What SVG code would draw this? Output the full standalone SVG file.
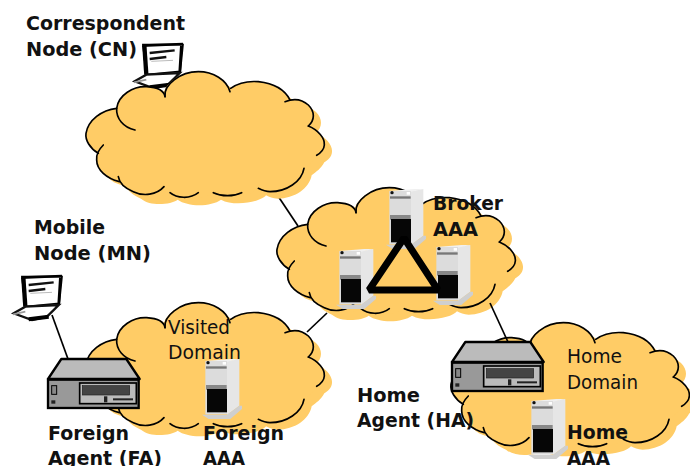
<svg xmlns="http://www.w3.org/2000/svg" width="690" height="466" viewBox="0 0 690 466">
<style>
text{font-family:"DejaVu Sans",Verdana,sans-serif;font-size:20px;fill:#111}
.b{font-weight:bold}
.line{stroke:#000;stroke-width:1.7;fill:none}
.arc{stroke:#000;stroke-width:5;fill:none;stroke-linecap:round}
.fill{fill:#ffcc66;stroke:none}
</style>
<defs>
<path id="cloudBody" d="M350,325C355,285 400,258 440,260C465,261 482,266 492,275C505,240 550,215 595,215C640,215 675,238 690,268C715,247 750,243 775,245C820,250 855,270 870,298C890,294 910,300 925,315C945,335 945,360 925,378C955,390 975,415 973,435C972,450 960,460 950,466C940,485 925,495 912,505C905,545 860,575 810,575C795,575 785,570 775,565C760,585 680,600 640,578C610,600 540,600 510,578C490,592 430,600 400,575C375,565 358,550 355,535C320,535 290,510 290,480C288,472 290,465 295,460C270,445 255,420 258,400C265,360 305,330 350,325Z"/>
<g id="cloudShape" transform="scale(.33333)">
<use href="#cloudBody" class="fill" transform="translate(23,21)"/>
<use href="#cloudBody" class="fill"/>
<path class="arc" d="M495,290C490,255 540,215 595,215C640,215 680,240 690,275"/>
<path class="arc" d="M692,265C720,245 750,243 775,245C820,250 855,270 870,300"/>
<path class="arc" d="M855,305C880,295 905,297 925,315C945,335 945,360 925,378"/>
<path class="arc" d="M925,378C955,390 975,415 973,435C972,450 960,460 950,466"/>
<path class="arc" d="M912,505C905,545 860,575 810,575C795,575 785,570 775,565"/>
<path class="arc" d="M725,578C700,590 665,590 640,578"/>
<path class="arc" d="M595,578C570,598 530,595 510,578"/>
<path class="arc" d="M492,560C470,585 430,590 400,575C375,565 358,550 355,530"/>
<path class="arc" d="M358,545C320,535 290,510 290,480C288,465 295,450 310,435"/>
<path class="arc" d="M295,460C270,445 255,420 258,400C265,360 305,330 350,325"/>
<path class="arc" d="M405,390C370,382 348,355 350,325C355,285 400,258 440,260C470,262 492,270 495,290"/>
</g>
<g id="server" transform="scale(.33333)">
<polygon points="75,6 112,0 112,140 75,168" fill="#e6e6e6"/>
<polygon points="10,6 85,0 112,0 75,8" fill="#f0f0f0"/>
<rect x="10" y="6" width="65" height="160" fill="#dcdcdc"/>
<rect x="12" y="22" width="62" height="7" fill="#777"/>
<rect x="12" y="78" width="62" height="14" fill="#888"/>
<rect x="15" y="90" width="60" height="70" fill="#060606"/>
<circle cx="18" cy="11" r="5" fill="#111"/>
<rect x="62" y="9" width="10" height="8" fill="#fff"/>
<polygon points="0,167 75,167 112,140 120,140 120,150 85,180 20,180" fill="#cfcfcf"/>
</g>
<g id="router" transform="scale(.33333)">
<polygon points="0,60 40,0 235,0 275,60" fill="#bbb" stroke="#000" stroke-width="7" stroke-linejoin="round"/>
<rect x="0" y="62" width="272" height="85" fill="#999" stroke="#000" stroke-width="7"/>
<rect x="95" y="72" width="170" height="62" fill="#bbb" stroke="#000" stroke-width="5"/>
<rect x="103" y="80" width="142" height="28" fill="#444" stroke="#222" stroke-width="2"/>
<rect x="168" y="112" width="10" height="18" fill="#222"/>
<rect x="195" y="118" width="60" height="6" fill="#222"/>
<rect x="11" y="80" width="15" height="26" fill="#888" stroke="#000" stroke-width="3"/>
<rect x="10" y="124" width="12" height="10" fill="#222"/>
</g>
<g id="laptop" transform="scale(.33333)">
<path d="M30,5L150,5L142,85L40,95Z" fill="#fff" stroke="#000" stroke-width="5"/>
<path d="M28,8L150,3" fill="none" stroke="#000" stroke-width="8"/>
<path d="M34,8L40,95" fill="none" stroke="#000" stroke-width="13"/>
<path d="M145,8L140,90" fill="none" stroke="#000" stroke-width="8"/>
<path d="M50,30L125,22M50,48L100,42" stroke="#111" stroke-width="7" fill="none"/>
<path d="M55,55L120,52" stroke="#999" stroke-width="2" fill="none"/>
<path d="M5,115L40,95L140,90L105,125L60,135Z" fill="#fff" stroke="#111" stroke-width="7"/>
<path d="M50,133L110,125" stroke="#000" stroke-width="12"/>
<path d="M3,118L40,110" stroke="#999" stroke-width="5"/>
</g>
</defs>

<g id="connectors">
<path class="line" d="M278,196L298,226"/>
<path class="line" d="M307,332L327,313"/>
<path class="line" d="M52,315L68,359"/>
</g>

<g id="cn-laptop"><use href="#laptop" x="133" y="43"/></g>
<g id="mn-laptop"><use href="#laptop" x="12" y="275"/></g>

<g id="internet-cloud"><use href="#cloudShape"/></g>
<g id="broker-cloud"><use href="#cloudShape" x="191" y="116"/></g>
<g id="visited-cloud"><use href="#cloudShape" x="0" y="231"/></g>
<g id="home-cloud"><use href="#cloudShape" x="365" y="251"/></g>

<g id="connector-broker-home"><path class="line" d="M490,303L508,342"/></g>

<g id="foreign-agent"><use href="#router" x="48" y="359"/></g>
<g id="home-agent"><use href="#router" x="452" y="342"/></g>
<g id="foreign-aaa"><use href="#server" x="202" y="359"/></g>
<g id="home-aaa"><use href="#server" x="528" y="399"/></g>
<g id="broker-aaa-top"><use href="#server" x="386" y="189"/></g>
<g id="broker-aaa-left"><use href="#server" x="336" y="249"/></g>
<g id="broker-aaa-right"><use href="#server" x="433" y="245"/></g>

<g id="broker-mesh"><path d="M404,238L369,290L438,290Z" fill="none" stroke="#000" stroke-width="7" stroke-linejoin="bevel"/></g>

<g id="labels">
<text class="b" x="26" y="30" textLength="159" lengthAdjust="spacingAndGlyphs">Correspondent</text>
<text class="b" x="26" y="56" textLength="111" lengthAdjust="spacingAndGlyphs">Node (CN)</text>
<text class="b" x="34" y="234" textLength="71" lengthAdjust="spacingAndGlyphs">Mobile</text>
<text class="b" x="34" y="260" textLength="117" lengthAdjust="spacingAndGlyphs">Node (MN)</text>
<text class="b" x="48" y="440" textLength="81" lengthAdjust="spacingAndGlyphs">Foreign</text>
<text class="b" x="48" y="465" textLength="114" lengthAdjust="spacingAndGlyphs">Agent (FA)</text>
<text class="b" x="203" y="440" textLength="81" lengthAdjust="spacingAndGlyphs">Foreign</text>
<text class="b" x="203" y="465" textLength="42" lengthAdjust="spacingAndGlyphs">AAA</text>
<text class="b" x="357" y="402" textLength="63" lengthAdjust="spacingAndGlyphs">Home</text>
<text class="b" x="357" y="427" textLength="117" lengthAdjust="spacingAndGlyphs">Agent (HA)</text>
<text class="b" x="433" y="210" textLength="70" lengthAdjust="spacingAndGlyphs">Broker</text>
<text class="b" x="433" y="236" textLength="45" lengthAdjust="spacingAndGlyphs">AAA</text>
<text x="168" y="334" textLength="62" lengthAdjust="spacingAndGlyphs">Visited</text>
<text x="168" y="359" textLength="73" lengthAdjust="spacingAndGlyphs">Domain</text>
<text x="567" y="363" textLength="55" lengthAdjust="spacingAndGlyphs">Home</text>
<text x="567" y="389" textLength="71" lengthAdjust="spacingAndGlyphs">Domain</text>
<text class="b" x="567" y="439" textLength="61" lengthAdjust="spacingAndGlyphs">Home</text>
<text class="b" x="567" y="465" textLength="43" lengthAdjust="spacingAndGlyphs">AAA</text>
</g>
</svg>
